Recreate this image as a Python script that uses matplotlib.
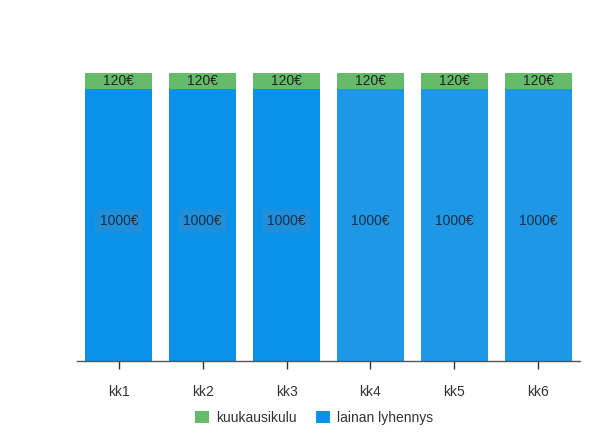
import matplotlib.pyplot as plt
import numpy as np
from matplotlib.patches import Patch

plt.rcParams["font.family"] = ["Liberation Sans", "DejaVu Sans"]

months = ["kk1", "kk2", "kk3", "kk4", "kk5", "kk6"]
repayment = [1000, 1000, 1000, 1000, 1000, 1000]
monthly_fee = [120, 120, 120, 120, 120, 120]

GREEN = "#66bb6a"
BLUE_A = "#0a92e8"
BLUE_B = "#1e97e6"
Y_LOW, Y_HIGH = 146, 1416

fig = plt.figure(figsize=(6.02, 4.45), dpi=100)
ax = fig.add_axes([77 / 602, 84 / 445, 503 / 602, 321 / 445])
ax.set_yscale("log")

x = np.arange(len(months))
blues = [BLUE_A if i < 3 else BLUE_B for i in range(len(months))]
ax.bar(x, repayment, width=0.8, bottom=Y_LOW * 0.5, color=blues, linewidth=0)
ax.bar(x, monthly_fee, width=0.8, bottom=repayment, color=GREEN, linewidth=0)

ax.set_xlim(-0.5, len(months) - 0.5)
ax.set_ylim(Y_LOW, Y_HIGH)

for i in x:
    r = repayment[i]
    f = monthly_fee[i]
    y_mid = np.sqrt(Y_LOW * r) * 1.03
    box = None
    if i < 3:
        box = dict(boxstyle="square,pad=0.35", facecolor="#1f8fdc", edgecolor="none")
    ax.text(i, y_mid, f"{r}€", ha="center", va="center", fontsize=10,
            color="#1b2f45", bbox=box)
    ax.text(i, np.sqrt(r * (r + f)), f"{f}€", ha="center", va="center",
            fontsize=10, color="#222222")

for side in ["top", "right", "left"]:
    ax.spines[side].set_visible(False)
ax.spines["bottom"].set_color("#555555")
ax.spines["bottom"].set_linewidth(1)
ax.set_yticks([])
ax.yaxis.set_minor_locator(plt.NullLocator())
ax.set_xticks(x)
ax.set_xticklabels(months, fontsize=10, color="#333333")
ax.tick_params(axis="x", length=6, width=1, color="#333333", pad=11)

handles = [Patch(facecolor=GREEN, label="kuukausikulu"),
           Patch(facecolor=BLUE_A, label="lainan lyhennys")]
fig.legend(handles=handles, loc="center", bbox_to_anchor=(0.522, 0.061),
           ncol=2, frameon=False, fontsize=10, handlelength=1.0,
           handleheight=0.9, columnspacing=1.4, handletextpad=0.5,
           labelcolor="#333333")

fig.savefig("out.png", dpi=100)
